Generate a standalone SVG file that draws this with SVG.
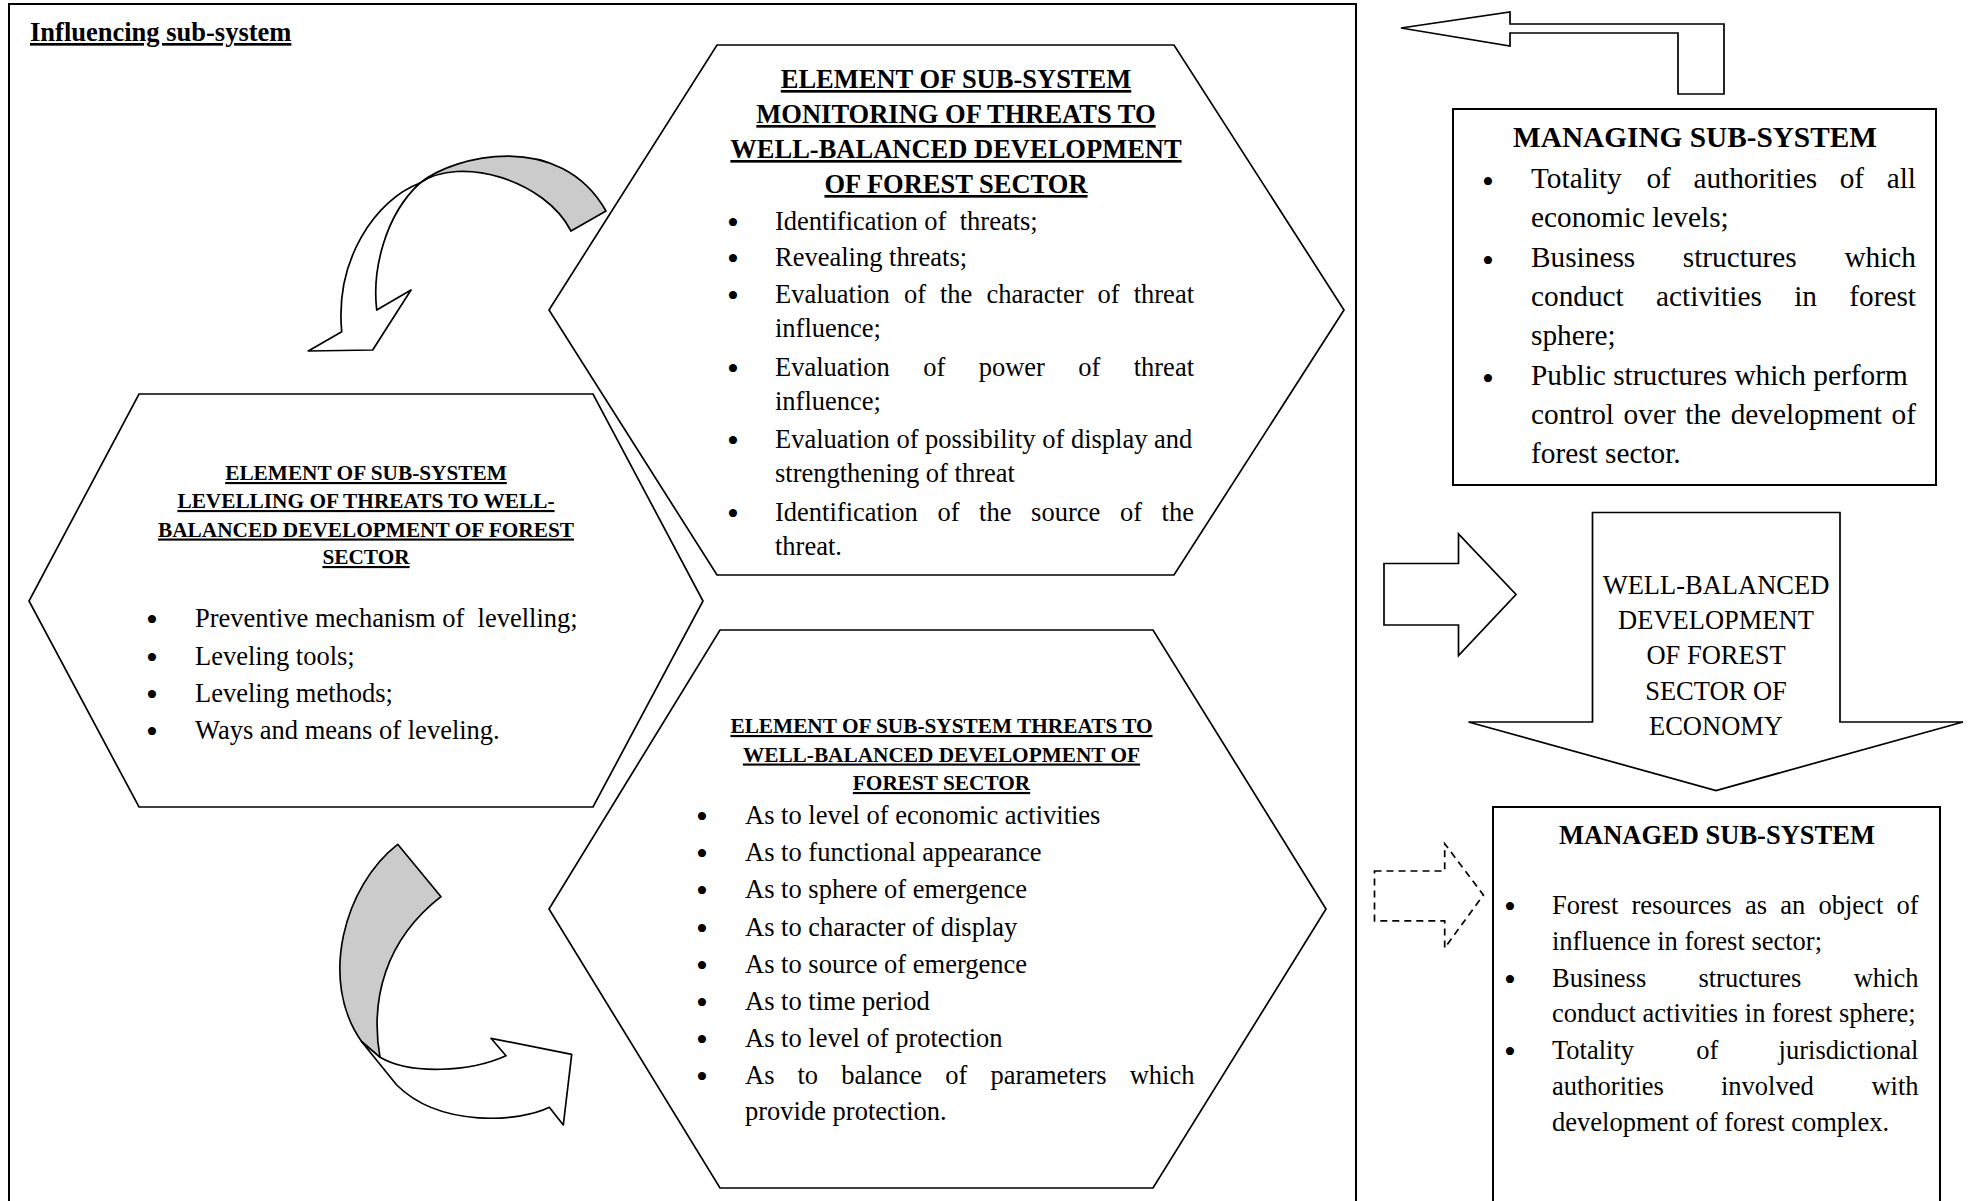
<svg xmlns="http://www.w3.org/2000/svg" width="1969" height="1201" viewBox="0 0 1969 1201">
<style>
text{font-family:"Liberation Serif","Times New Roman",serif;fill:#000}
.b{font-size:26.5px}
.bl{font-size:34px;text-anchor:middle}
.h{font-size:26.5px;font-weight:bold;text-decoration:underline}
.hs{font-size:21.3px;font-weight:bold;text-decoration:underline;text-anchor:middle}
.hm{text-anchor:middle}
.m{font-size:29.3px}
.shape{fill:#fff;stroke:#000;stroke-width:1.7}
.box{fill:#fff;stroke:#000;stroke-width:2}
.gray{fill:#cbcbcb;stroke:#000;stroke-width:1.7;stroke-linejoin:round}
.white{fill:#fff;stroke:#000;stroke-width:1.7;stroke-linejoin:round}
</style>
<rect width="1969" height="1201" fill="#fff"/>
<g id="influencing">
<rect x="9" y="4" width="1347" height="1230" fill="none" stroke="#000" stroke-width="2"/>
<text x="30" y="41" class="h">Influencing sub-system</text>
</g>
<g id="monitoring">
<polygon class="shape" points="717,45 1174,45 1344,310 1174,575 717,575 549,310"/>
<text class="h hm" x="956"><tspan x="956" y="88">ELEMENT OF SUB-SYSTEM</tspan><tspan x="956" y="123">MONITORING OF THREATS TO</tspan><tspan x="956" y="158">WELL-BALANCED DEVELOPMENT</tspan><tspan x="956" y="193">OF FOREST SECTOR</tspan></text>
<text class="bl"><tspan x="733" y="234">•</tspan><tspan x="733" y="270">•</tspan><tspan x="733" y="307">•</tspan><tspan x="733" y="380">•</tspan><tspan x="733" y="452">•</tspan><tspan x="733" y="525">•</tspan></text>
<text class="b"><tspan x="775" y="230">Identification of&#160; threats;</tspan><tspan x="775" y="266">Revealing threats;</tspan></text>
<text class="b" y="303"><tspan x="775">Evaluation</tspan><tspan x="903.9">of</tspan><tspan x="940">the</tspan><tspan x="986.4">character</tspan><tspan x="1097.5">of</tspan><tspan x="1133.7">threat</tspan></text>
<text class="b" x="775" y="337">influence;</text>
<text class="b" y="376"><tspan x="775">Evaluation</tspan><tspan x="923.2">of</tspan><tspan x="978.7">power</tspan><tspan x="1078.3">of</tspan><tspan x="1133.7">threat</tspan></text>
<text class="b" x="775" y="410">influence;</text>
<text class="b"><tspan x="775" y="448">Evaluation of possibility of display and</tspan><tspan x="775" y="482">strengthening of threat</tspan></text>
<text class="b" y="521"><tspan x="775">Identification</tspan><tspan x="937.4">of</tspan><tspan x="979.1">the</tspan><tspan x="1031.1">source</tspan><tspan x="1119.9">of</tspan><tspan x="1161.6">the</tspan></text>
<text class="b" x="775" y="555">threat.</text>
</g>
<g id="levelling">
<polygon class="shape" points="139,394 593,394 703,601 593,807 139,807 29,601"/>
<text class="hs"><tspan x="366" y="480">ELEMENT OF SUB-SYSTEM</tspan><tspan x="366" y="508">LEVELLING OF THREATS TO WELL-</tspan><tspan x="366" y="536.5">BALANCED DEVELOPMENT OF FOREST</tspan><tspan x="366" y="564">SECTOR</tspan></text>
<text class="bl"><tspan x="152" y="631">•</tspan><tspan x="152" y="668.5">•</tspan><tspan x="152" y="705.5">•</tspan><tspan x="152" y="742.5">•</tspan></text>
<text class="b"><tspan x="195" y="627">Preventive mechanism of&#160; levelling;</tspan><tspan x="195" y="664.5">Leveling tools;</tspan><tspan x="195" y="701.5">Leveling methods;</tspan><tspan x="195" y="738.5">Ways and means of leveling.</tspan></text>
</g>
<g id="threats">
<polygon class="shape" points="720,630 1153,630 1326,909 1153,1188 720,1188 549,909"/>
<text class="hs"><tspan x="941.5" y="733">ELEMENT OF SUB-SYSTEM THREATS TO</tspan><tspan x="941.5" y="761.5">WELL-BALANCED DEVELOPMENT OF</tspan><tspan x="941.5" y="790">FOREST SECTOR</tspan></text>
<text class="bl"><tspan x="702" y="828">•</tspan><tspan x="702" y="865">•</tspan><tspan x="702" y="902">•</tspan><tspan x="702" y="939.5">•</tspan><tspan x="702" y="977">•</tspan><tspan x="702" y="1014">•</tspan><tspan x="702" y="1051">•</tspan><tspan x="702" y="1088">•</tspan></text>
<text class="b"><tspan x="745" y="824">As to level of economic activities</tspan><tspan x="745" y="861">As to functional appearance</tspan><tspan x="745" y="898">As to sphere of emergence</tspan><tspan x="745" y="935.5">As to character of display</tspan><tspan x="745" y="973">As to source of emergence</tspan><tspan x="745" y="1010">As to time period</tspan><tspan x="745" y="1047">As to level of protection</tspan></text>
<text class="b" y="1084"><tspan x="745">As</tspan><tspan x="797.5">to</tspan><tspan x="841.2">balance</tspan><tspan x="945.2">of</tspan><tspan x="990.4">parameters</tspan><tspan x="1129.7">which</tspan></text>
<text class="b" x="745" y="1120">provide protection.</text>
</g>
<g id="managing">
<rect class="box" x="1453" y="109" width="483" height="376"/>
<text class="m hm" x="1695" y="147" font-weight="bold">MANAGING SUB-SYSTEM</text>
<text class="bl" font-size="37"><tspan x="1488" y="193">•</tspan><tspan x="1488" y="272">•</tspan><tspan x="1488" y="390">•</tspan></text>
<text class="m" y="188"><tspan x="1531">Totality</tspan><tspan x="1646.4">of</tspan><tspan x="1693.4">authorities</tspan><tspan x="1839.7">of</tspan><tspan x="1886.7">all</tspan></text>
<text class="m" x="1531" y="226.5">economic levels;</text>
<text class="m" y="267"><tspan x="1531">Business</tspan><tspan x="1682.8">structures</tspan><tspan x="1844.4">which</tspan></text>
<text class="m" y="305.5"><tspan x="1531">conduct</tspan><tspan x="1656.1">activities</tspan><tspan x="1794.2">in</tspan><tspan x="1849.3">forest</tspan></text>
<text class="m" x="1531" y="344.5">sphere;</text>
<text class="m" x="1531" y="385">Public structures which perform</text>
<text class="m" y="424"><tspan x="1531">control</tspan><tspan x="1623.6">over</tspan><tspan x="1685.3">the</tspan><tspan x="1730.7">development</tspan><tspan x="1891.6">of</tspan></text>
<text class="m" x="1531" y="463">forest sector.</text>
</g>
<g id="balanced">
<polygon class="shape" points="1592.5,512.5 1840,512.5 1840,722 1963,722 1716,790.5 1468.5,722 1592.5,722"/>
<text class="b hm"><tspan x="1716" y="593.5">WELL-BALANCED</tspan><tspan x="1716" y="628.5">DEVELOPMENT</tspan><tspan x="1716" y="664">OF FOREST</tspan><tspan x="1716" y="699.5">SECTOR OF</tspan><tspan x="1716" y="734.5">ECONOMY</tspan></text>
</g>
<g id="managed">
<rect class="box" x="1493" y="807" width="447" height="430"/>
<text class="b hm" x="1717" y="844" font-weight="bold">MANAGED SUB-SYSTEM</text>
<text class="bl"><tspan x="1510" y="918">•</tspan><tspan x="1510" y="990.5">•</tspan><tspan x="1510" y="1063">•</tspan></text>
<text class="b" y="914"><tspan x="1552">Forest</tspan><tspan x="1631.5">resources</tspan><tspan x="1744.9">as</tspan><tspan x="1780.2">an</tspan><tspan x="1818.5">object</tspan><tspan x="1896.4">of</tspan></text>
<text class="b" x="1552" y="950">influence in forest sector;</text>
<text class="b" y="986.5"><tspan x="1552">Business</tspan><tspan x="1698.4">structures</tspan><tspan x="1853.7">which</tspan></text>
<text class="b" x="1552" y="1022">conduct activities in forest sphere;</text>
<text class="b" y="1059"><tspan x="1552">Totality</tspan><tspan x="1696.2">of</tspan><tspan x="1778.6">jurisdictional</tspan></text>
<text class="b" y="1095"><tspan x="1552">authorities</tspan><tspan x="1721">involved</tspan><tspan x="1871.4">with</tspan></text>
<text class="b" x="1552" y="1130.5">development of forest complex.</text>
</g>
<g id="connectors">
<polygon class="shape" points="1401,28 1510,12 1510,24 1724,24 1724,94 1678,94 1678,33 1510,33 1510,46"/>
<polygon class="shape" points="1384,563.5 1458.5,563.5 1458.5,534 1516,594.5 1458.5,655.5 1458.5,625 1384,625"/>
<polygon class="shape" stroke-dasharray="7 5" points="1374.5,871 1444.7,871 1444.7,843.7 1483.4,895 1444.7,948 1444.7,920.8 1374.5,920.8"/>
<path class="gray" d="M606,211 C560,130 455,155 420,183 C460,155 545,180 571,231 Z"/>
<path class="white" d="M420,183 C375,200 335,260 341.7,331.7 L308.3,351 L372.7,350 L411,290 L376.7,310 C372,270 385,215 420,183 Z"/>
<path class="gray" d="M397.7,844.3 C345,885 318,980 361.7,1041.7 L380,1057.3 C370,1000 385,940 441,896.7 Z"/>
<path class="white" d="M361.7,1041.7 L380,1057.3 C410,1075 470,1072 506,1055.7 L491,1038.3 L571.7,1054.3 L563.3,1125 L549.3,1107.3 C520,1122 440,1128 396.7,1085 Z"/>
</g>
</svg>
